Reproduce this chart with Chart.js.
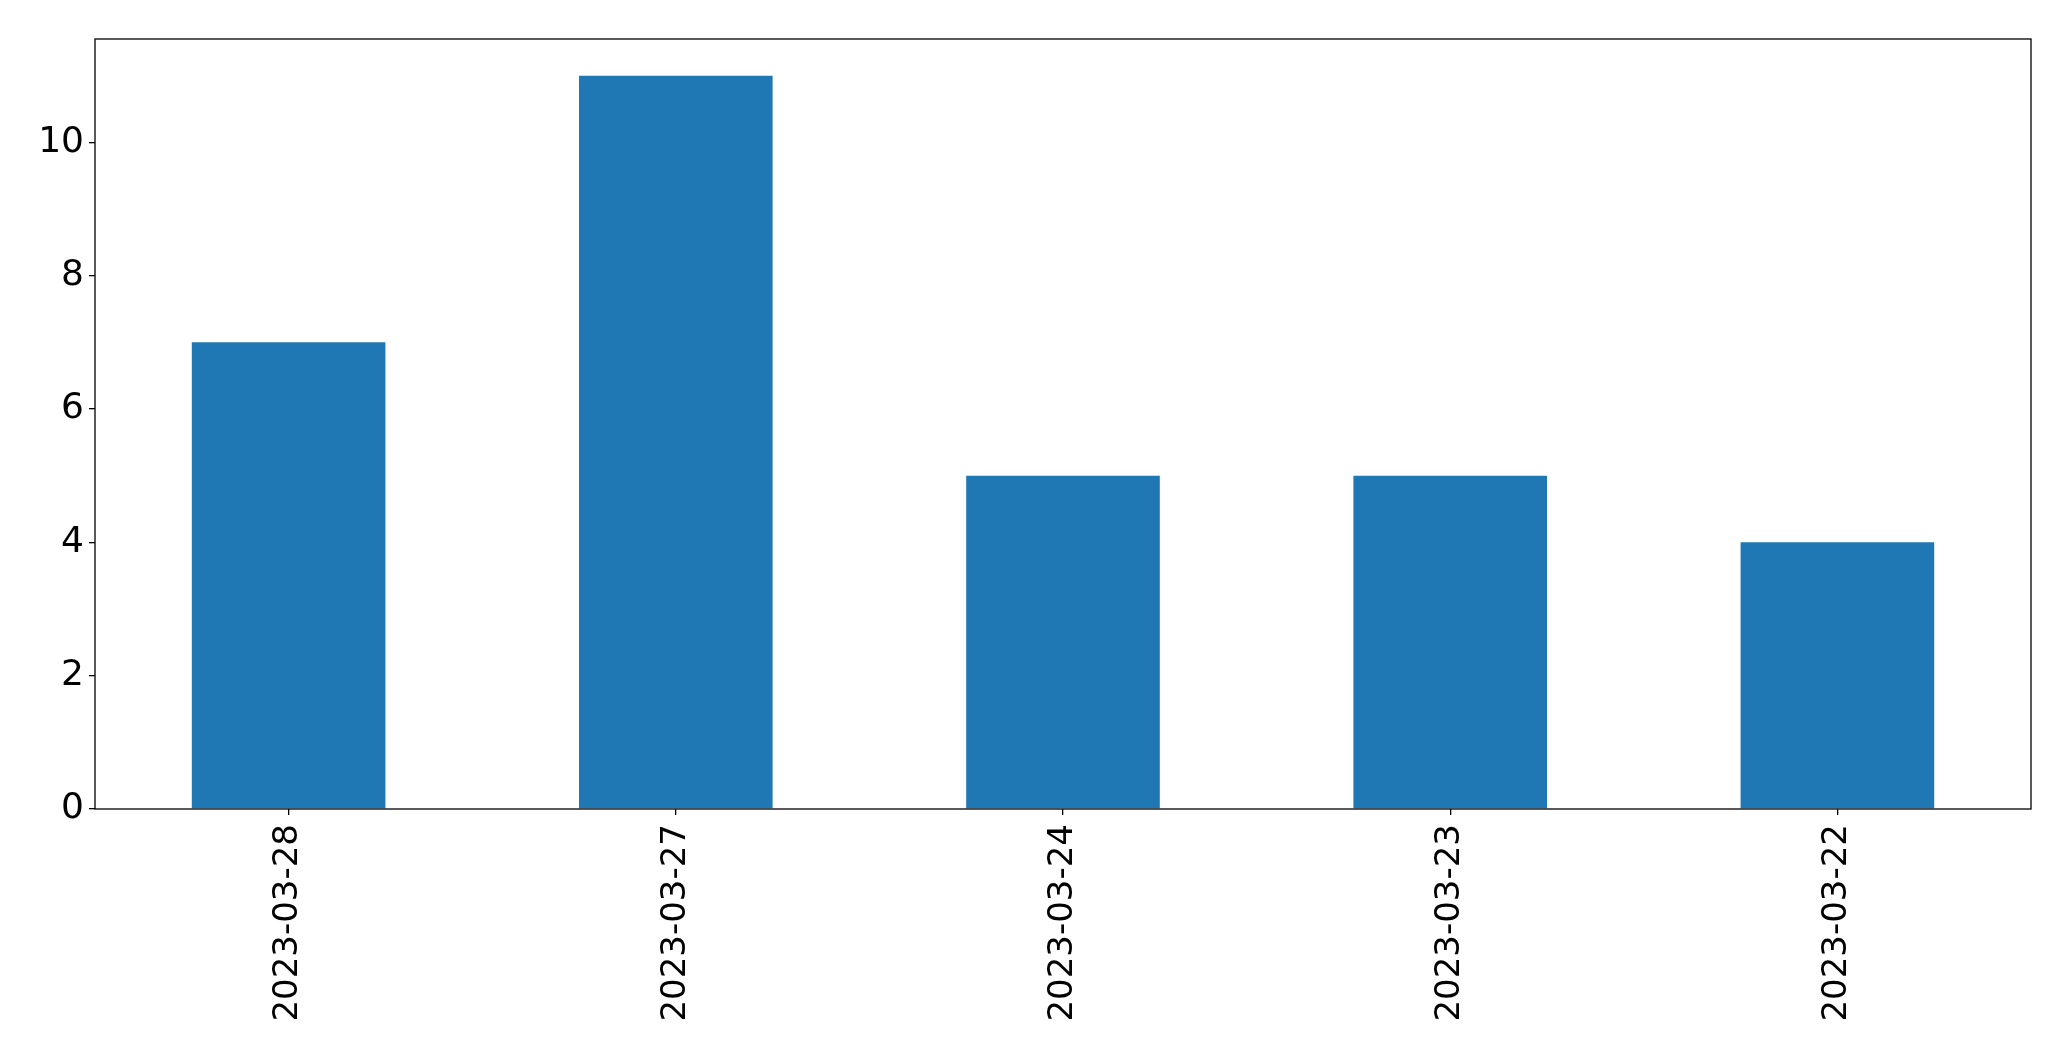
<!DOCTYPE html>
<html>
<head>
<meta charset="utf-8">
<script src="https://cdn.jsdelivr.net/npm/chart.js@4/dist/chart.umd.min.js"></script>
<style>
  html, body { margin: 0; padding: 0; background: #fff; }
  #wrap { width: 2071px; height: 1061px; }
</style>
</head>
<body>
<div id="wrap"><canvas id="chart" width="2071" height="1061"></canvas></div>
<script>
const dates = ['2023-03-28', '2023-03-27', '2023-03-24', '2023-03-23', '2023-03-22'];
const counts = [7, 11, 5, 5, 4];
const yTicks = [0, 2, 4, 6, 8, 10];

const xFont = { family: '"DejaVu Sans", sans-serif', size: 34 };
const yFont = { family: '"DejaVu Sans", sans-serif', size: 36 };

// box around the plot area, like matplotlib's spines
const frame = {
  id: 'frame',
  afterDraw(chart) {
    const { ctx, chartArea: a } = chart;
    ctx.save();
    ctx.strokeStyle = '#000';
    ctx.lineWidth = 1.3;
    ctx.strokeRect(a.left, a.top, a.right - a.left, a.bottom - a.top);
    ctx.restore();
  }
};

new Chart(document.getElementById('chart'), {
  type: 'bar',
  data: {
    labels: dates,
    datasets: [{
      data: counts,
      backgroundColor: '#1f77b4',
      borderWidth: 0,
      categoryPercentage: 1.0,
      barPercentage: 0.5,
    }]
  },
  options: {
    responsive: false,
    animation: false,
    devicePixelRatio: 1,
    layout: { padding: { left: 0, top: 39, right: 40, bottom: 0 } },
    plugins: { legend: { display: false }, tooltip: { enabled: false } },
    scales: {
      x: {
        grid: { drawOnChartArea: false, offset: false, tickLength: 6, color: '#000', lineWidth: 1.3 },
        border: { display: false },
        ticks: { font: xFont, color: '#000', minRotation: 90, maxRotation: 90, padding: 9 },
        afterFit(s) { s.height = 252; }
      },
      y: {
        min: 0,
        max: 11.55,
        grid: { drawOnChartArea: false, tickLength: 6, color: '#000', lineWidth: 1.3 },
        border: { display: false },
        ticks: { font: yFont, color: '#000', padding: 5 },
        afterBuildTicks(s) { s.ticks = yTicks.map(v => ({ value: v })); },
        afterFit(s) { s.width = 95; }
      }
    }
  },
  plugins: [frame]
});
</script>
</body>
</html>
